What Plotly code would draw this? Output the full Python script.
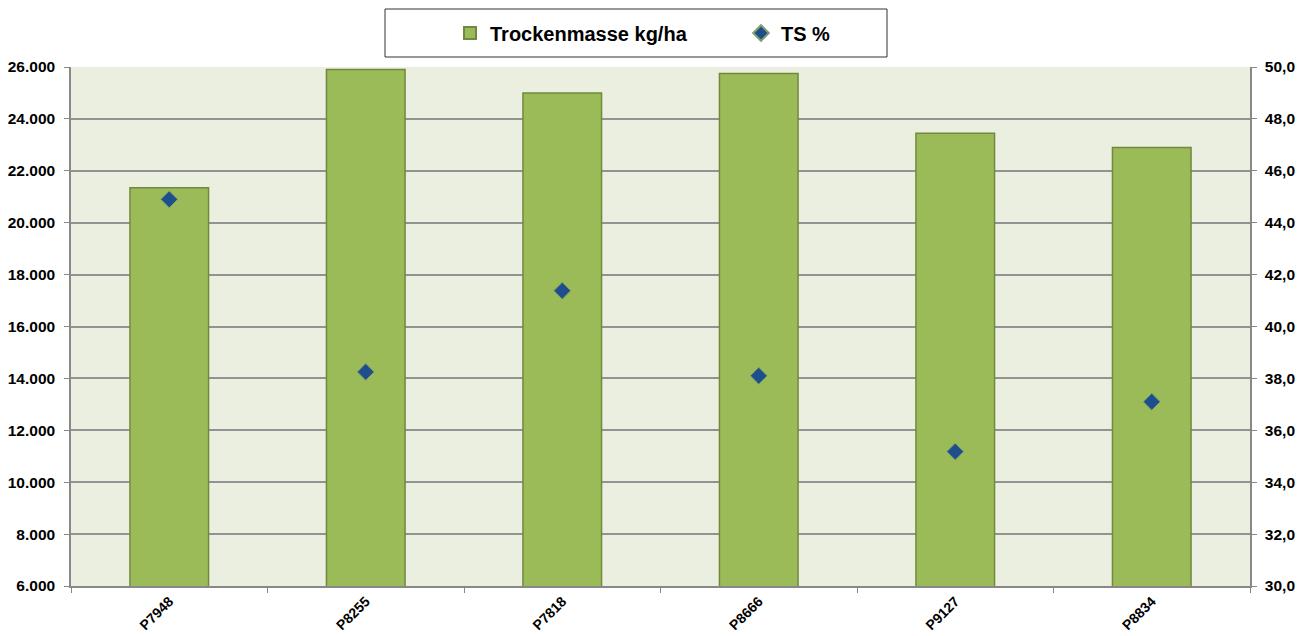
import plotly.graph_objects as go

categories = ["P7948", "P8255", "P7818", "P8666", "P9127", "P8834"]
trockenmasse = [21350, 25900, 25000, 25750, 23450, 22900]
ts_pct = [44.9, 38.25, 41.38, 38.1, 35.18, 37.1]

left_ticks = [6000, 8000, 10000, 12000, 14000, 16000, 18000, 20000, 22000, 24000, 26000]
right_ticks = [30, 32, 34, 36, 38, 40, 42, 44, 46, 48, 50]

FAM = "Liberation Sans, Arial, sans-serif"
font_tick = dict(family=FAM, size=15.5, color="#000000", weight="bold")
font_cat = dict(family=FAM, size=14, color="#000000", weight="bold")

W, H = 1298, 636
L, R, T, B = 71, 48, 67, 50
PW = W - L - R
PH = H - T - B


def px_x(x):
    return (x - L) / PW


def px_y(y):
    return (H - B - y) / PH


fig = go.Figure()
fig.add_trace(go.Bar(
    x=categories, y=trockenmasse, name="Trockenmasse kg/ha",
    marker=dict(color="#9BBB59", line=dict(color="#71893F", width=1.5)),
    width=0.4,
))
fig.add_trace(go.Scatter(
    x=categories, y=ts_pct, name="TS %", yaxis="y2", mode="markers",
    marker=dict(symbol="diamond", size=13, color="#1F4E8C",
                line=dict(color="#7F9F6A", width=1)),
))

fig.update_layout(
    width=W, height=H,
    margin=dict(l=L, r=R, t=T, b=B, autoexpand=False),
    paper_bgcolor="white", plot_bgcolor="#EBEFDF",
    separators=",.",
    font=font_tick,
    showlegend=True,
    legend=dict(orientation="h", x=px_x(450), xanchor="left",
                y=px_y(33), yanchor="middle",
                bgcolor="rgba(0,0,0,0)", font=dict(size=20, family=FAM, weight="bold", color="#000000"),
                entrywidth=246, itemsizing="constant"),
    xaxis=dict(type="category", showline=True, linecolor="#888888", linewidth=1.5,
               ticks="outside", tickson="boundaries", ticklen=5, tickcolor="#888888",
               tickangle=-45, tickfont=font_cat, showgrid=False, range=[-0.5, 5.5],
               automargin=False),
    yaxis=dict(range=[6000, 26000], tickvals=left_ticks, tickformat=",d",
               showline=True, linecolor="#888888", linewidth=1.5, ticks="outside",
               ticklen=5, tickcolor="#888888", gridcolor="#929292", gridwidth=1.5,
               tickfont=font_tick, zeroline=False, automargin=False, ticklabelstandoff=6),
    yaxis2=dict(range=[30, 50], tickvals=right_ticks, tickformat=".1f",
                overlaying="y", side="right", showline=True, linecolor="#888888", linewidth=1.5,
                ticks="outside", ticklen=5, tickcolor="#888888", showgrid=False,
                tickfont=font_tick, zeroline=False, automargin=False, ticklabelstandoff=5),
    shapes=[dict(type="rect", xref="paper", yref="paper",
                 x0=px_x(385), x1=px_x(887),
                 y0=px_y(57), y1=px_y(9),
                 line=dict(color="#333333", width=1), fillcolor="white", layer="below")],
)

fig.write_html(
    "out.html",
    config={"displayModeBar": False},
    post_script="document.body.style.margin='0';document.body.style.overflow='hidden';",
)
